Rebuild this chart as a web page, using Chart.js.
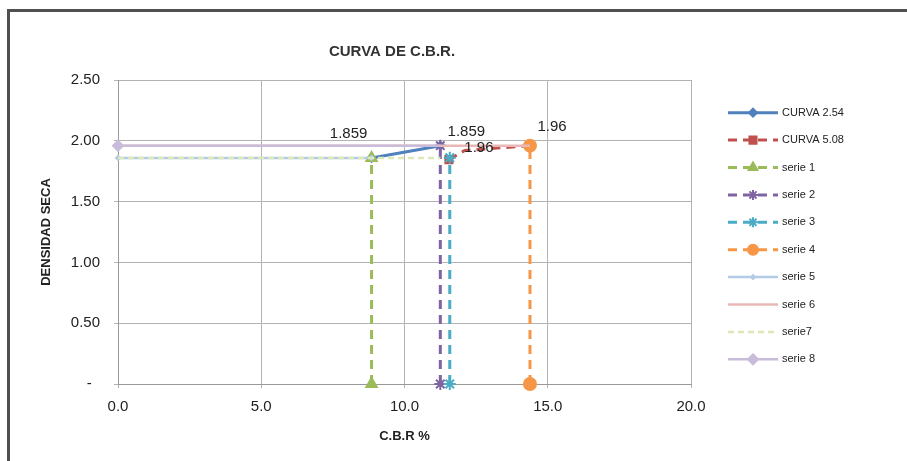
<!DOCTYPE html>
<html><head><meta charset="utf-8">
<script src="https://cdn.jsdelivr.net/npm/chart.js@4"></script>
<style>
html,body{margin:0;padding:0;background:#fff;overflow:hidden;}
#wrap{position:relative;width:907px;height:461px;overflow:hidden;}
#frame{position:absolute;left:7px;top:9px;width:920px;height:470px;border-top:3px solid #505050;border-left:3px solid #505050;pointer-events:none;}
canvas{position:absolute;left:0;top:0;}
</style></head><body>
<div id="wrap"><canvas id="c" width="907" height="461"></canvas><div id="frame"></div></div>
<script>
// ---- data ----
const seriesNames = ['CURVA 2.54','CURVA 5.08','serie 1','serie 2','serie 3','serie 4','serie 5','serie 6','serie7','serie 8'];
const curva254X = [8.85, 11.25];
const curva254Y = [1.859, 1.96];
const curva508X = [11.55, 12.1, 14.38];
const curva508Y = [1.845, 1.92, 1.96];
const serie1X = [8.85, 8.85];   const serie1Y = [0, 1.859];
const serie2X = [11.25, 11.25]; const serie2Y = [0, 1.96];
const serie3X = [11.58, 11.58]; const serie3Y = [0, 1.86];
const serie4X = [14.38, 14.38]; const serie4Y = [0, 1.96];
const serie5X = [0, 8.85];      const serie5Y = [1.859, 1.859];
const serie6X = [0, 14.38];     const serie6Y = [1.96, 1.96];
const serie7X = [0, 11.25];     const serie7Y = [1.859, 1.859];
const serie8X = [0, 11.25];     const serie8Y = [1.96, 1.96];
const xTickLabels = ['0.0','5.0','10.0','15.0','20.0'];
const yTickLabels = ['-','0.50','1.00','1.50','2.00','2.50'];
const labelTexts  = ['1.859','1.859','1.96','1.96'];
const labelSeries = [2, 3, 1, 5];
const labelPoints = [1, 1, 0, 1];

// ---- styles ----
const seriesX = [curva254X, curva508X, serie1X, serie2X, serie3X, serie4X, serie5X, serie6X, serie7X, serie8X];
const seriesY = [curva254Y, curva508Y, serie1Y, serie2Y, serie3Y, serie4Y, serie5Y, serie6Y, serie7Y, serie8Y];
const styles = [
  {c:'#4F81BD', w:3, dash:[], ps:'rectRot', r:4},
  {c:'#C0504D', w:3, dash:[9,6], ps:'rect', r:[5,0,5], lr:5},
  {c:'#9BBB59', w:3, dash:[9,6], ps:'triangle', r:6},
  {c:'#8064A2', w:3, dash:[9,6], ps:'star', r:6},
  {c:'#4BACC6', w:3, dash:[9,6], ps:'star', r:6},
  {c:'#F79646', w:3, dash:[9,6], ps:'circle', r:6},
  {c:'#B4CBE6', w:2.5, dash:[], ps:'rectRot', r:2},
  {c:'#E8B7B6', w:2.5, dash:[], ps:'rect', r:0},
  {c:'#DDE8B8', w:2.5, dash:[6,4], ps:'triangle', r:0},
  {c:'#C9BCDB', w:2.5, dash:[], ps:'rectRot', r:[5,0], lr:5}
];
const labelOffsets = [[-23,-24],[26,-14],[30,-12],[22,-19]];
const FONT = '"Liberation Sans", Arial, sans-serif';

const datasets = seriesNames.map((name, k) => ({
  label: name,
  data: seriesX[k].map((x, i) => ({x: x, y: seriesY[k][i]})),
  showLine: true,
  clip: false,
  borderColor: styles[k].c,
  backgroundColor: styles[k].c,
  borderWidth: styles[k].w,
  borderDash: styles[k].dash,
  pointStyle: styles[k].ps,
  pointRadius: styles[k].r,
  pointHoverRadius: styles[k].r,
  pointBorderWidth: 2,
  fill: false,
  order: -k
}));

const overlay = {
  id: 'overlay',
  afterDatasetsDraw(chart) {
    const ctx = chart.ctx;
    ctx.save();
    ctx.font = '15px ' + FONT;
    ctx.fillStyle = '#222';
    ctx.textAlign = 'center';
    ctx.textBaseline = 'middle';
    labelTexts.forEach((t, i) => {
      const el = chart.getDatasetMeta(labelSeries[i]).data[labelPoints[i]];
      ctx.fillText(t, el.x + labelOffsets[i][0], el.y + labelOffsets[i][1]);
    });
    ctx.restore();
  },
  afterDraw(chart) {
    const ctx = chart.ctx;
    ctx.save();
    // title
    ctx.font = 'bold 15px ' + FONT;
    ctx.fillStyle = '#333';
    ctx.textAlign = 'center';
    ctx.textBaseline = 'middle';
    ctx.fillText('CURVA DE C.B.R.', 392, 52);
    // legend
    const x0 = 728, x1 = 778, y0 = 112.7, step = 27.4;
    seriesNames.forEach((name, k) => {
      const s = styles[k];
      const y = y0 + step * k;
      ctx.strokeStyle = s.c;
      ctx.fillStyle = s.c;
      ctx.lineWidth = s.w;
      ctx.setLineDash(s.dash);
      ctx.beginPath(); ctx.moveTo(x0, y); ctx.lineTo(x1, y); ctx.stroke();
      ctx.setLineDash([]);
      let r = s.lr !== undefined ? s.lr : s.r;
      if (r > 0) {
        r = Math.min(r, 5);
        ctx.lineWidth = 2;
        Chart.helpers.drawPoint(ctx, {pointStyle: s.ps, radius: r, rotation: 0, borderWidth: 2}, (x0 + x1) / 2, y);
      }
      ctx.font = '11px ' + FONT;
      ctx.fillStyle = '#222';
      ctx.textAlign = 'left';
      ctx.textBaseline = 'middle';
      ctx.fillText(name, 782, y);
    });
    ctx.restore();
  }
};

new Chart(document.getElementById('c'), {
  type: 'scatter',
  data: { datasets: datasets },
  options: {
    responsive: false,
    animation: false,
    devicePixelRatio: 1,
    layout: { padding: { left: 0, top: 80, right: 216, bottom: 0 } },
    plugins: { legend: { display: false }, title: { display: false }, tooltip: { enabled: false } },
    scales: {
      x: {
        type: 'linear', min: 0, max: 20,
        ticks: { stepSize: 5, padding: 10, color: '#222', font: { size: 15, family: FONT },
                 callback: (v, i) => xTickLabels[i] },
        grid: { color: '#b3b3b3', lineWidth: 1, tickLength: 4 },
        border: { color: '#999' },
        title: { display: true, text: 'C.B.R %', color: '#222', font: { size: 13, weight: 'bold', family: FONT },
                 padding: { top: 0, bottom: 17 } },
        afterFit: s => { s.height = 77; }
      },
      y: {
        type: 'linear', min: 0, max: 2.5,
        ticks: { stepSize: 0.5, padding: 14, color: '#222', font: { size: 15, family: FONT },
                 callback: (v, i) => (v === 0 ? yTickLabels[i] + '  ' : yTickLabels[i]) },
        grid: { color: '#b3b3b3', lineWidth: 1, tickLength: 4 },
        border: { color: '#999' },
        title: { display: true, text: 'DENSIDAD SECA', color: '#222', font: { size: 13, weight: 'bold', family: FONT },
                 padding: { top: 39, bottom: 0 } },
        afterFit: s => { s.width = 118; }
      }
    }
  },
  plugins: [overlay]
});
</script>
</body></html>
